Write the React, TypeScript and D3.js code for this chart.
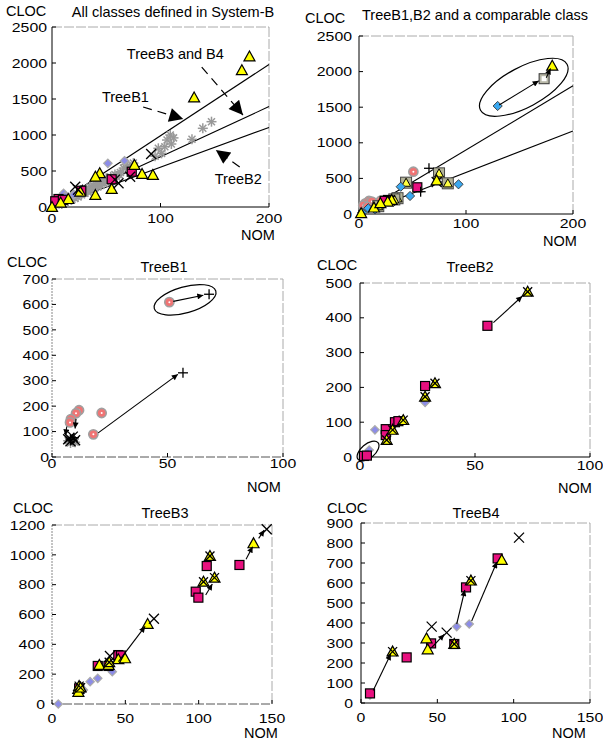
import * as d3 from "d3";

const FONT = "'Liberation Sans', Arial, Helvetica, sans-serif";

type Pt = [number, number];
type Arrow = [number, number, number, number];

// ---------- panel 1: all classes defined in System-B
const p1Tri: Pt[] = [[182, 2090], [175, 1900], [131, 1520], [93, 444], [83, 458], [76, 583], [44, 468], [40, 421], [26, 213], [40, 167], [15, 110], [0, 0], [55, 250], [8, 60]];
const p1Sq: Pt[] = [[73.5, 490], [55, 385], [27, 226], [6, 111], [3, 80], [10, 100]];
const p1Dia: Pt[] = [[51.5, 606], [66.8, 643], [10.7, 190], [12, 150], [20, 170]];
const p1X: Pt[] = [[91.4, 736], [21.4, 282], [61.3, 329], [58, 380], [72, 420], [24, 240]];
const p1Star: Pt[] = [[4, 30], [6, 50], [8, 70], [9, 40], [11, 90], [12, 60], [14, 110], [15, 80], [17, 130], [18, 100], [20, 160], [21, 120], [23, 180], [24, 140], [26, 200], [27, 170], [29, 230], [30, 190], [32, 250], [33, 210], [35, 280], [36, 240], [38, 300], [39, 260], [41, 320], [42, 280], [44, 350], [45, 300], [47, 370], [48, 330], [50, 400], [52, 360], [54, 420], [56, 380], [58, 450], [60, 410], [63, 480], [66, 540], [68, 590], [70, 520], [72, 560], [75, 610], [31, 220], [37, 270], [43, 310], [49, 360], [25, 170], [19, 140], [13, 95], [57, 420], [62, 450], [95, 705], [98, 815], [101, 745], [104, 838], [106, 930], [109, 1000], [110, 875], [112, 960], [129, 940], [139, 1093], [147, 1185]];
const p1Fits: Pt[] = [[200, 1980], [200, 1395], [200, 1105]];
const p1Notes = [
  { text: "TreeB1", tx: 46, ty: 1455, from: [84, 1389] as Pt, to: [121, 1222] as Pt },
  { text: "TreeB3 and B4", tx: 69, ty: 2060, from: [138, 1944] as Pt, to: [176, 1278] as Pt },
  { text: "TreeB2", tx: 150, ty: 320, from: [173, 556] as Pt, to: [151, 792] as Pt },
];

// ---------- panel 2: TreeB1, B2 and a comparable class
const p2Circ: Pt[] = [[50.8, 594], [9.3, 183], [20.5, 187], [6, 150], [4, 120], [12, 175], [8, 100]];
const p2Plus: Pt[] = [[65.4, 642], [57.6, 313]];
const p2Tri: Pt[] = [[180.6, 2083], [72.6, 470], [30.5, 197], [26.8, 173], [2, 10], [14, 90], [20, 150]];
const p2GsqTri: Pt[] = [[74.8, 571], [44, 440], [83, 431], [36, 222], [18, 110], [33, 205]];
const p2Bdia: Pt[] = [[129.6, 1517], [93, 417], [39, 383], [47.7, 253], [8.7, 80], [15, 66], [3, 20], [24, 160]];
const p2Sq: Pt[] = [[54.5, 375], [27, 197], [24, 185]];
const p2Hsq: Pt[] = [[173, 1900]];
const p2X: Pt[] = [[72.6, 450], [29, 190]];
const p2Fits: Pt[] = [[200, 1800], [200, 1166]];
const p2Arrows: Arrow[] = [[131, 1530, 168, 1870], [175, 1915, 179, 2045]];

// ---------- panel 3: TreeB1
const p3Circ: Pt[] = [[50.8, 609], [17.9, 89], [21.5, 173], [11.7, 184], [10.4, 172], [8.2, 149], [7.8, 136]];
const p3Plus: Pt[] = [[68, 640], [56.7, 331], [8, 70], [9.5, 76]];
const p3X: Pt[] = [[7, 70], [8, 62], [9, 80], [10, 66], [7.5, 75]];
const p3Star: Pt[] = [[8, 55], [9, 60], [7, 64], [10, 58]];
const p3Arrows: Arrow[] = [[52.5, 612, 65.5, 636], [20, 95, 54.5, 325], [6.4, 120, 5.8, 85], [10.4, 150, 10, 112]];

// ---------- panel 4: TreeB2
const p4Sq: Pt[] = [[55.4, 377], [28.3, 204], [15.2, 100], [16.7, 103], [11.2, 80], [11.2, 63], [1.7, 3], [3, 4]];
const p4TriX: Pt[] = [[72.9, 475], [32.6, 212], [28.3, 173], [18.8, 106], [14.2, 78], [11.6, 49]];
const p4Dia: Pt[] = [[28.3, 157], [6.5, 78], [4, 20]];
const p4Arrows: Arrow[] = [[58, 386, 70.5, 462]];

// ---------- panel 5: TreeB3
const p5X: Pt[] = [[146.4, 1171], [69.5, 572], [39.5, 322]];
const p5Tri: Pt[] = [[137.4, 1077], [65.2, 536], [32.3, 261], [38.6, 261], [45.2, 300], [49.8, 306], [17.9, 100], [18, 80]];
const p5TriX: Pt[] = [[107.7, 992], [103.3, 820], [110.8, 847], [39, 280], [18.5, 120], [19.5, 110]];
const p5Sq: Pt[] = [[127.8, 932], [105.5, 925], [98, 753], [99.8, 713], [31.2, 255], [38.5, 255], [45.2, 328], [47, 325], [18.5, 105]];
const p5Dia: Pt[] = [[41.1, 217], [31.2, 172], [26, 150], [21.4, 94], [4.3, 0]];
const p5Arrows: Arrow[] = [[45.3, 284, 63.5, 520], [104.8, 731, 109.3, 804], [132.3, 970, 136.8, 1055], [140.9, 1110, 144.7, 1166]];

// ---------- panel 6: TreeB4
const p6X: Pt[] = [[103.5, 827], [46.3, 382], [56.1, 352]];
const p6Sq: Pt[] = [[89.5, 723], [68.8, 578], [45.9, 298], [29.9, 228], [5.9, 48], [61.1, 295]];
const p6Tri: Pt[] = [[92.2, 715], [42.9, 323], [43.7, 268]];
const p6TriX: Pt[] = [[72, 612], [20.7, 257], [61.1, 295]];
const p6Dia: Pt[] = [[70.9, 395], [62.7, 382], [5.9, 40]];
const p6Arrows: Arrow[] = [[62.7, 395, 68, 565], [72.5, 410, 89, 705], [46, 275, 54.5, 343], [8, 62, 19.5, 245]];

function Mark({ t, cx, cy }: { t: string; cx: number; cy: number }) {
  const tri = (s: number) => `M${cx},${cy - s}L${cx + s},${cy + s * 0.8}L${cx - s},${cy + s * 0.8}Z`;
  const cross = (s: number, c: string, w: number) => (
    <g stroke={c} strokeWidth={w}>
      <line x1={cx - s} y1={cy - s} x2={cx + s} y2={cy + s} />
      <line x1={cx - s} y1={cy + s} x2={cx + s} y2={cy - s} />
    </g>
  );
  const dia = (s: number) => `M${cx},${cy - s}L${cx + s},${cy}L${cx},${cy + s}L${cx - s},${cy}Z`;
  switch (t) {
    case "sq":
      return <rect x={cx - 4.5} y={cy - 4.5} width={9} height={9} fill="#e8107f" stroke="#000" strokeWidth={1.2} />;
    case "tri":
      return <path d={tri(5.5)} fill="#ffff00" stroke="#000" strokeWidth={1.2} />;
    case "trix":
      return (
        <g>
          <path d={tri(5.5)} fill="#ffff00" stroke="#000" strokeWidth={1.2} />
          {cross(4.5, "#000", 1.3)}
        </g>
      );
    case "x":
      return cross(5, "#000", 1.3);
    case "plus":
      return (
        <g stroke="#000" strokeWidth={1.3}>
          <line x1={cx - 5} y1={cy} x2={cx + 5} y2={cy} />
          <line x1={cx} y1={cy - 5} x2={cx} y2={cy + 5} />
        </g>
      );
    case "star":
      return (
        <g stroke="#999" strokeWidth={1.5}>
          <line x1={cx - 5} y1={cy} x2={cx + 5} y2={cy} />
          <line x1={cx} y1={cy - 5} x2={cx} y2={cy + 5} />
          <line x1={cx - 3.5} y1={cy - 3.5} x2={cx + 3.5} y2={cy + 3.5} />
          <line x1={cx - 3.5} y1={cy + 3.5} x2={cx + 3.5} y2={cy - 3.5} />
        </g>
      );
    case "dia":
      return <path d={dia(4.2)} fill="#8c8ce8" stroke="#aaa" strokeWidth={1.2} />;
    case "bdia":
      return <path d={dia(4.6)} fill="#3aa8f0" stroke="#333" strokeWidth={0.9} />;
    case "circ":
      return (
        <g>
          <circle cx={cx} cy={cy} r={4.6} fill="#f07474" stroke="#a0a0a0" strokeWidth={1.6} />
          <circle cx={cx} cy={cy} r={1} fill="#fff" />
        </g>
      );
    case "gsqtri":
      return (
        <g>
          <rect x={cx - 5.5} y={cy - 5.5} width={11} height={11} fill="#b4b498" stroke="#444" strokeWidth={1} />
          <path d={tri(4.5)} fill="#ffff40" stroke="#000" strokeWidth={1} />
        </g>
      );
    case "hsq":
      return (
        <g>
          <rect x={cx - 5} y={cy - 5} width={10} height={10} fill="#b8b8a8" stroke="#333" strokeWidth={1} />
          <rect x={cx - 2.5} y={cy - 2.5} width={5} height={5} fill="#fff" />
        </g>
      );
    default:
      return null;
  }
}

type Ell = { c: Pt; rx: number; ry: number; rot: number };
type Note = { text: string; tx: number; ty: number; from: Pt; to: Pt };

interface PanelProps {
  l: number; r: number; t: number; b: number;
  xMax: number; yMax: number; xTicks: number[]; yTicks: number[];
  title: string; titleX: number; titleY: number;
  clocX: number; clocY: number; nomX: number; nomY: number;
  xLabOff: number; yLabGap: number; dashedAxes?: boolean;
  series: { kind: string; pts: Pt[] }[];
  arrows?: Arrow[]; fits?: Pt[]; ellipses?: Ell[]; notes?: Note[];
}

function Panel(p: PanelProps) {
  const x = d3.scaleLinear().domain([0, p.xMax]).range([p.l, p.r]);
  const y = d3.scaleLinear().domain([0, p.yMax]).range([p.b, p.t]);
  const axisDash = p.dashedAxes ? "9,2" : undefined;
  const axisCol = p.dashedAxes ? "#555" : "#000";
  return (
    <g fontFamily={FONT}>
      {/* frame */}
      <line x1={p.l} y1={p.t} x2={p.r} y2={p.t} stroke="#aaa" strokeDasharray="10,2" />
      <line x1={p.r} y1={p.t} x2={p.r} y2={p.b} stroke="#aaa" strokeDasharray="10,2" />
      <line x1={p.l} y1={p.t} x2={p.l} y2={p.b} stroke={p.dashedAxes ? "#888" : "#000"} strokeDasharray={p.dashedAxes ? "2,1" : undefined} />
      <line x1={p.l} y1={p.b} x2={p.r} y2={p.b} stroke={axisCol} strokeDasharray={axisDash} />
      {p.yTicks.map((v) => (
        <g key={"y" + v}>
          <line x1={p.l} x2={p.l + 4} y1={y(v)} y2={y(v)} stroke="#000" />
          <text x={p.l - p.yLabGap} y={y(v)} dy="0.36em" textAnchor="end" fontSize={13}
            textLength={String(v).length * 8.8} lengthAdjust="spacingAndGlyphs">{v}</text>
        </g>
      ))}
      {p.xTicks.map((v) => (
        <g key={"x" + v}>
          <line x1={x(v)} x2={x(v)} y1={p.b} y2={p.b - 4} stroke="#000" />
          <text x={x(v)} y={p.b + p.xLabOff} textAnchor="middle" fontSize={13}
            textLength={String(v).length * 8.8} lengthAdjust="spacingAndGlyphs">{v}</text>
        </g>
      ))}
      <text x={p.clocX} y={p.clocY} fontSize={14.5}>CLOC</text>
      <text x={p.nomX} y={p.nomY} fontSize={14.5} textAnchor="middle">NOM</text>
      <text x={p.titleX} y={p.titleY} fontSize={14.5} textAnchor="middle">{p.title}</text>
      {(p.fits || []).map((f, i) => (
        <line key={"f" + i} x1={x(0)} y1={y(0)} x2={x(f[0])} y2={y(f[1])} stroke="#000" strokeWidth={1.1} />
      ))}
      {(p.ellipses || []).map((e, i) => (
        <ellipse key={"e" + i} cx={x(e.c[0])} cy={y(e.c[1])} rx={e.rx} ry={e.ry}
          transform={`rotate(${e.rot},${x(e.c[0])},${y(e.c[1])})`} fill="none" stroke="#000" strokeWidth={1.2} />
      ))}
      {p.series.map((s) =>
        s.pts.map((d, i) => <Mark key={s.kind + i} t={s.kind} cx={x(d[0])} cy={y(d[1])} />)
      )}
      {(p.arrows || []).map((a, i) => (
        <line key={"a" + i} x1={x(a[0])} y1={y(a[1])} x2={x(a[2])} y2={y(a[3])} stroke="#000"
          strokeWidth={1.1} markerEnd="url(#ah)" />
      ))}
      {(p.notes || []).map((n, i) => (
        <g key={"n" + i}>
          <text x={x(n.tx)} y={y(n.ty)} fontSize={14.5}>{n.text}</text>
          <line x1={x(n.from[0])} y1={y(n.from[1])} x2={x(n.to[0])} y2={y(n.to[1])} stroke="#000"
            strokeWidth={1.2} strokeDasharray="9,6" markerEnd="url(#bigah)" />
        </g>
      ))}
    </g>
  );
}

export default function App() {
  return (
    <svg width={603} height={744} style={{ position: "absolute", left: 0, top: 0, background: "#fff" }}>
      <defs>
        <marker id="ah" viewBox="0 0 10 10" refX="10" refY="5" markerWidth="8" markerHeight="6"
          markerUnits="userSpaceOnUse" orient="auto">
          <path d="M0,0L10,5L0,10Z" fill="#000" />
        </marker>
        <marker id="bigah" viewBox="0 0 10 10" refX="10" refY="5" markerWidth="20" markerHeight="14"
          markerUnits="userSpaceOnUse" orient="auto">
          <path d="M0,0L10,5L0,10Z" fill="#000" />
        </marker>
      </defs>
      <rect width={603} height={744} fill="#fff" />
      <Panel l={52} r={269} t={27} b={207} xMax={200} yMax={2500} xTicks={[0, 100, 200]}
        yTicks={[0, 500, 1000, 1500, 2000, 2500]} title="All classes defined in System-B" titleX={173} titleY={17}
        clocX={6} clocY={16} nomX={258} nomY={240} xLabOff={16} yLabGap={5}
        series={[{ kind: "star", pts: p1Star }, { kind: "dia", pts: p1Dia }, { kind: "sq", pts: p1Sq },
          { kind: "tri", pts: p1Tri }, { kind: "x", pts: p1X }]}
        fits={p1Fits} notes={p1Notes} />
      <Panel l={359} r={573} t={36} b={214} xMax={200} yMax={2500} xTicks={[0, 100, 200]}
        yTicks={[0, 500, 1000, 1500, 2000, 2500]} title="TreeB1,B2 and a comparable class" titleX={475} titleY={20}
        clocX={305} clocY={23} nomX={560} nomY={246} xLabOff={14} yLabGap={7}
        series={[{ kind: "circ", pts: p2Circ }, { kind: "gsqtri", pts: p2GsqTri }, { kind: "bdia", pts: p2Bdia },
          { kind: "sq", pts: p2Sq }, { kind: "hsq", pts: p2Hsq }, { kind: "x", pts: p2X }, { kind: "tri", pts: p2Tri },
          { kind: "plus", pts: p2Plus }]}
        fits={p2Fits} arrows={p2Arrows} ellipses={[{ c: [154, 1780], rx: 49, ry: 20, rot: -28 }]} />
      <Panel l={52} r={283} t={279} b={457} xMax={100} yMax={700} xTicks={[0, 50, 100]}
        yTicks={[0, 100, 200, 300, 400, 500, 600, 700]} title="TreeB1" titleX={164} titleY={272}
        clocX={7} clocY={267} nomX={264} nomY={492} xLabOff={11} yLabGap={3} dashedAxes
        series={[{ kind: "star", pts: p3Star }, { kind: "circ", pts: p3Circ }, { kind: "x", pts: p3X },
          { kind: "plus", pts: p3Plus }]}
        arrows={p3Arrows} ellipses={[{ c: [57.6, 618], rx: 32, ry: 13, rot: -16 }]} />
      <Panel l={360} r={590} t={283} b={457} xMax={100} yMax={500} xTicks={[0, 50, 100]}
        yTicks={[0, 100, 200, 300, 400, 500]} title="TreeB2" titleX={470} titleY={272}
        clocX={317} clocY={270} nomX={575} nomY={493} xLabOff={13} yLabGap={8}
        series={[{ kind: "dia", pts: p4Dia }, { kind: "sq", pts: p4Sq }, { kind: "trix", pts: p4TriX }]}
        arrows={p4Arrows} ellipses={[{ c: [3.5, 17], rx: 13, ry: 7, rot: -40 }]} />
      <Panel l={52} r={272} t={525} b={704} xMax={150} yMax={1200} xTicks={[0, 50, 100, 150]}
        yTicks={[0, 200, 400, 600, 800, 1000, 1200]} title="TreeB3" titleX={165} titleY={518}
        clocX={13} clocY={513} nomX={261} nomY={738} xLabOff={19} yLabGap={7} dashedAxes
        series={[{ kind: "dia", pts: p5Dia }, { kind: "sq", pts: p5Sq }, { kind: "tri", pts: p5Tri },
          { kind: "trix", pts: p5TriX }, { kind: "x", pts: p5X }]}
        arrows={p5Arrows} />
      <Panel l={361} r={590} t={523} b={703} xMax={150} yMax={900} xTicks={[0, 50, 100, 150]}
        yTicks={[0, 100, 200, 300, 400, 500, 600, 700, 800, 900]} title="TreeB4" titleX={476} titleY={518}
        clocX={327} clocY={513} nomX={569} nomY={738} xLabOff={19} yLabGap={8}
        series={[{ kind: "dia", pts: p6Dia }, { kind: "sq", pts: p6Sq }, { kind: "tri", pts: p6Tri },
          { kind: "trix", pts: p6TriX }, { kind: "x", pts: p6X }]}
        arrows={p6Arrows} />
    </svg>
  );
}
